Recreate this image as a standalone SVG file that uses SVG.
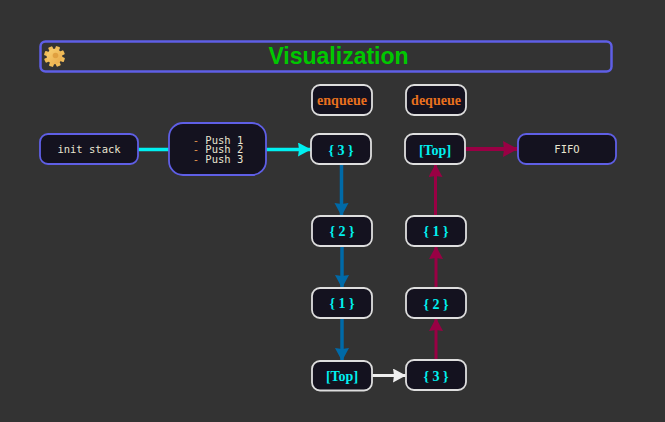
<svg xmlns="http://www.w3.org/2000/svg" width="665" height="422" viewBox="0 0 665 422">
<style>
.box{fill:#14121f;stroke-width:1.800}
.w{stroke:#dedede}
.p{stroke:#5f5fe6}
.val{font:bold 14px "Liberation Serif",serif;fill:#00f0f0;text-anchor:middle}
.hd{font:bold 14px "Liberation Serif",serif;fill:#e8701e;text-anchor:middle}
.mono{font:10.500px "DejaVu Sans Mono",monospace;fill:#e8e4d0;text-anchor:middle}
.dash{fill:#ec9a50}
.c{fill:none;stroke-width:3}
.t{stroke-width:3.500}
.tooth{fill:#f0bc58}
</style>
<defs>
<marker id="ac" markerUnits="userSpaceOnUse" markerWidth="15" markerHeight="15" refX="13" refY="7" orient="auto"><path d="M0 0L13 7L0 14L1 7Z" fill="#00f0f0"/></marker>
<marker id="ab" markerUnits="userSpaceOnUse" markerWidth="15" markerHeight="15" refX="13" refY="7" orient="auto"><path d="M0 0L13 7L0 14L1 7Z" fill="#006aa8"/></marker>
<marker id="ar" markerUnits="userSpaceOnUse" markerWidth="15" markerHeight="15" refX="13" refY="7" orient="auto"><path d="M0 0L13 7L0 14L1 7Z" fill="#990044"/></marker>
<marker id="al" markerUnits="userSpaceOnUse" markerWidth="17" markerHeight="17" refX="15" refY="8" orient="auto"><path d="M0 0L15 8L0 16L1 8Z" fill="#990044"/></marker>
<marker id="aw" markerUnits="userSpaceOnUse" markerWidth="15" markerHeight="15" refX="13" refY="7" orient="auto"><path d="M0 0L13 7L0 14L1 7Z" fill="#f0f0f0"/></marker>
<linearGradient id="g" x1="0" y1="0" x2="1" y2="1"><stop offset="0" stop-color="#f8d070"/><stop offset="1" stop-color="#e8a848"/></linearGradient>
</defs>
<rect width="665" height="422" fill="#333333"/>
<g id="connectors">
<path class="c t" d="M138 149.500H169" stroke="#00f0f0"/>
<path class="c t" d="M266 149.500H311" stroke="#00f0f0" marker-end="url(#ac)"/>
<path class="c t" d="M341.500 164V216" stroke="#006aa8" marker-end="url(#ab)"/>
<path class="c t" d="M342 246V288" stroke="#006aa8" marker-end="url(#ab)"/>
<path class="c t" d="M342 318V361" stroke="#006aa8" marker-end="url(#ab)"/>
<path class="c" d="M372 375.500H406" stroke="#f0f0f0" marker-end="url(#aw)"/>
<path class="c" d="M436 360V318" stroke="#990044" marker-end="url(#ar)"/>
<path class="c" d="M436 288V246" stroke="#990044" marker-end="url(#ar)"/>
<path class="c" d="M435.500 216V164" stroke="#990044" marker-end="url(#ar)"/>
<path class="c" d="M465 149H518" stroke="#990044" style="stroke-width:4" marker-end="url(#al)"/>
</g>
<g id="title">
<rect x="40.500" y="41.500" width="571" height="30" rx="5" fill="#333333" stroke="#5f5fe6" stroke-width="2.500"/>
<text x="338.500" y="64" font-family="Liberation Sans,sans-serif" font-weight="bold" font-size="23" fill="#00c800" text-anchor="middle">Visualization</text>
<g id="gear">
<rect class="tooth" x="52.300" y="46" width="4.400" height="5" rx="0.800" transform="rotate(20 54.500 56.500)"/>
<rect class="tooth" x="52.300" y="46" width="4.400" height="5" rx="0.800" transform="rotate(65 54.500 56.500)"/>
<rect class="tooth" x="52.300" y="46" width="4.400" height="5" rx="0.800" transform="rotate(110 54.500 56.500)"/>
<rect class="tooth" x="52.300" y="46" width="4.400" height="5" rx="0.800" transform="rotate(155 54.500 56.500)"/>
<rect class="tooth" x="52.300" y="46" width="4.400" height="5" rx="0.800" transform="rotate(200 54.500 56.500)"/>
<rect class="tooth" x="52.300" y="46" width="4.400" height="5" rx="0.800" transform="rotate(245 54.500 56.500)"/>
<rect class="tooth" x="52.300" y="46" width="4.400" height="5" rx="0.800" transform="rotate(290 54.500 56.500)"/>
<rect class="tooth" x="52.300" y="46" width="4.400" height="5" rx="0.800" transform="rotate(335 54.500 56.500)"/>
<circle cx="54.500" cy="56.500" r="7.800" fill="url(#g)"/>
<circle cx="55.500" cy="55.500" r="2.800" fill="#e0a040"/>
</g>
</g>
<g id="init-stack"><rect class="box p" x="40" y="134" width="98" height="30" rx="8"/><text class="mono" x="89" y="153">init stack</text></g>
<g id="push"><rect class="box p" x="169" y="123" width="97" height="52" rx="14"/>
<text class="mono"><tspan x="218" y="144"><tspan class="dash">- </tspan>Push 1</tspan><tspan x="218" y="153"><tspan class="dash">- </tspan>Push 2</tspan><tspan x="218" y="163"><tspan class="dash">- </tspan>Push 3</tspan></text></g>
<g id="enqueue"><rect class="box w" x="312" y="85" width="60" height="30" rx="8"/><text class="hd" x="342" y="105">enqueue</text></g>
<g id="dequeue"><rect class="box w" x="406" y="85" width="60" height="30" rx="8"/><text class="hd" x="436" y="105">dequeue</text></g>
<g id="l3"><rect class="box w" x="311" y="134" width="60" height="30" rx="8"/><text class="val" x="341" y="155">{ 3 }</text></g>
<g id="l2"><rect class="box w" x="312" y="216" width="60" height="30" rx="8"/><text class="val" x="342" y="236">{ 2 }</text></g>
<g id="l1"><rect class="box w" x="312" y="288" width="60" height="30" rx="8"/><text class="val" x="342" y="308">{ 1 }</text></g>
<g id="ltop"><rect class="box w" x="312" y="361" width="60" height="29.500" rx="8"/><text class="val" x="342" y="381">[Top]</text></g>
<g id="rtop"><rect class="box w" x="405" y="134" width="60" height="30" rx="8"/><text class="val" x="435" y="155">[Top]</text></g>
<g id="r1"><rect class="box w" x="406" y="216" width="60" height="30" rx="8"/><text class="val" x="436" y="236">{ 1 }</text></g>
<g id="r2"><rect class="box w" x="406" y="288" width="60" height="30" rx="8"/><text class="val" x="436" y="309">{ 2 }</text></g>
<g id="r3"><rect class="box w" x="406" y="360" width="60" height="30" rx="8"/><text class="val" x="436" y="381">{ 3 }</text></g>
<g id="fifo"><rect class="box p" x="518" y="134" width="98" height="30" rx="8"/><text class="mono" x="567" y="153">FIFO</text></g>
</svg>
